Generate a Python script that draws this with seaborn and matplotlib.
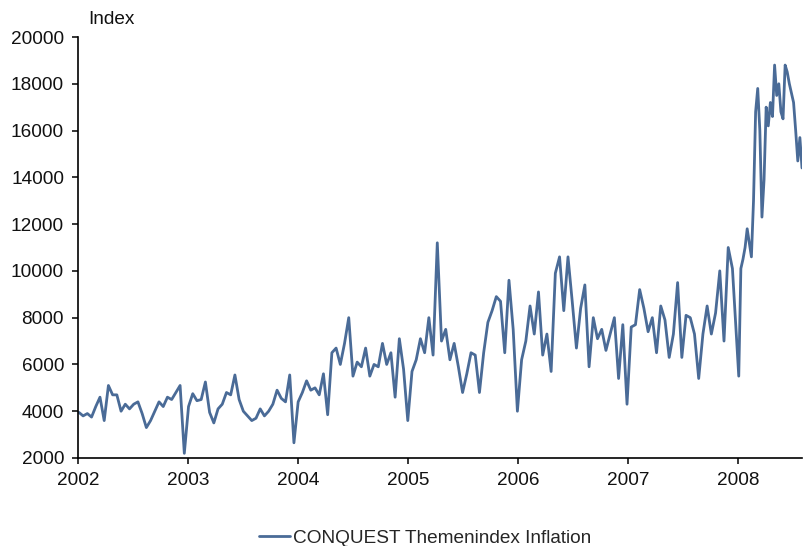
import numpy as np
import pandas as pd
import seaborn as sns
import matplotlib.pyplot as plt
import matplotlib.dates as mdates

w2002 = [3950, 3800, 3900, 3750, 4200, 4600, 3600, 5100, 4700, 4700, 4000, 4300, 4100,
         4300, 4400, 3900, 3300, 3600, 4000, 4400, 4200, 4600, 4500, 4800, 5100, 2200]
w2003 = [4200, 4750, 4450, 4500, 5250, 3950, 3500, 4100, 4300, 4800, 4700, 5550, 4500,
         4000, 3800, 3600, 3700, 4100, 3800, 4000, 4300, 4900, 4550, 4400, 5550, 2650]
w2004 = [4400, 4800, 5300, 4900, 5000, 4700, 5600, 3850, 6500, 6700, 6000, 6900, 8000,
         5500, 6100, 5900, 6700, 5500, 6000, 5900, 6900, 6000, 6500, 4600, 7100, 5800]
w2005 = [3600, 5700, 6200, 7100, 6500, 8000, 6400, 11200, 7000, 7500, 6200, 6900, 5900,
         4800, 5600, 6500, 6400, 4800, 6500, 7800, 8300, 8900, 8700, 6500, 9600, 7500]
w2006 = [4000, 6200, 7000, 8500, 7300, 9100, 6400, 7300, 5700, 9900, 10600, 8300, 10600,
         8700, 6700, 8400, 9400, 5900, 8000, 7100, 7500, 6600, 7300, 8000, 5400, 7700]
w2007 = [4300, 7600, 7700, 9200, 8400, 7400, 8000, 6500, 8500, 7900, 6300, 7300, 9500,
         6300, 8100, 8000, 7300, 5400, 7300, 8500, 7300, 8200, 10000, 7000, 11000, 10100]
w2008 = [5500, 10100, 10500, 11000, 11800, 11200, 10600, 13000, 16800, 17800, 16000,
         12300, 13900, 17000, 16200, 17200, 16600, 18800, 17500, 18000, 16800, 16500,
         18800, 18500, 18000, 17600, 17200, 16000, 14700, 15700, 14400]

werte = w2002 + w2003 + w2004 + w2005 + w2006 + w2007 + w2008
n_zw = 26 * 6
daten = pd.date_range('2002-01-04', periods=n_zw, freq='14D').append(
    pd.date_range('2008-01-04', periods=len(w2008), freq='7D'))

df = pd.DataFrame({'Datum': daten, 'Index': werte})

sns.set_theme(style='ticks')
plt.rcParams['font.family'] = ['Liberation Sans', 'DejaVu Sans']

fig = plt.figure(figsize=(8.04, 5.46), dpi=100)
ax = fig.add_axes([78 / 804, 1 - 458 / 546, (802 - 78) / 804, (458 - 37) / 546])

sns.lineplot(data=df, x='Datum', y='Index', ax=ax, color='#4a6b97', linewidth=2.0,
             label='CONQUEST Themenindex Inflation')

ax.set_xlim(pd.Timestamp('2002-01-01'), pd.Timestamp('2008-08-01'))
ax.set_ylim(2000, 20000)
ax.set_yticks(range(2000, 20001, 2000))
ax.xaxis.set_major_locator(mdates.YearLocator())
ax.xaxis.set_major_formatter(mdates.DateFormatter('%Y'))
ax.set_xlabel('')
ax.set_ylabel('')
sns.despine(ax=ax)
for s in ['left', 'bottom']:
    ax.spines[s].set_color('black')
    ax.spines[s].set_linewidth(1.2)
ax.tick_params(axis='both', length=4, width=1.1, color='black', labelsize=13.7,
               labelcolor='#111111', pad=6)

fig.text(88 / 804, 1 - 20 / 546, 'Index', fontsize=13.7, va='center', ha='left',
         color='#111111')

ax.get_legend().remove()
h, l = ax.get_legend_handles_labels()
fig.legend(h, l, loc='center', bbox_to_anchor=(0.529, 0.014), frameon=False,
           fontsize=13.7, handlelength=1.6, handletextpad=0.2, borderaxespad=0)

fig.savefig('out.png', dpi=100)
